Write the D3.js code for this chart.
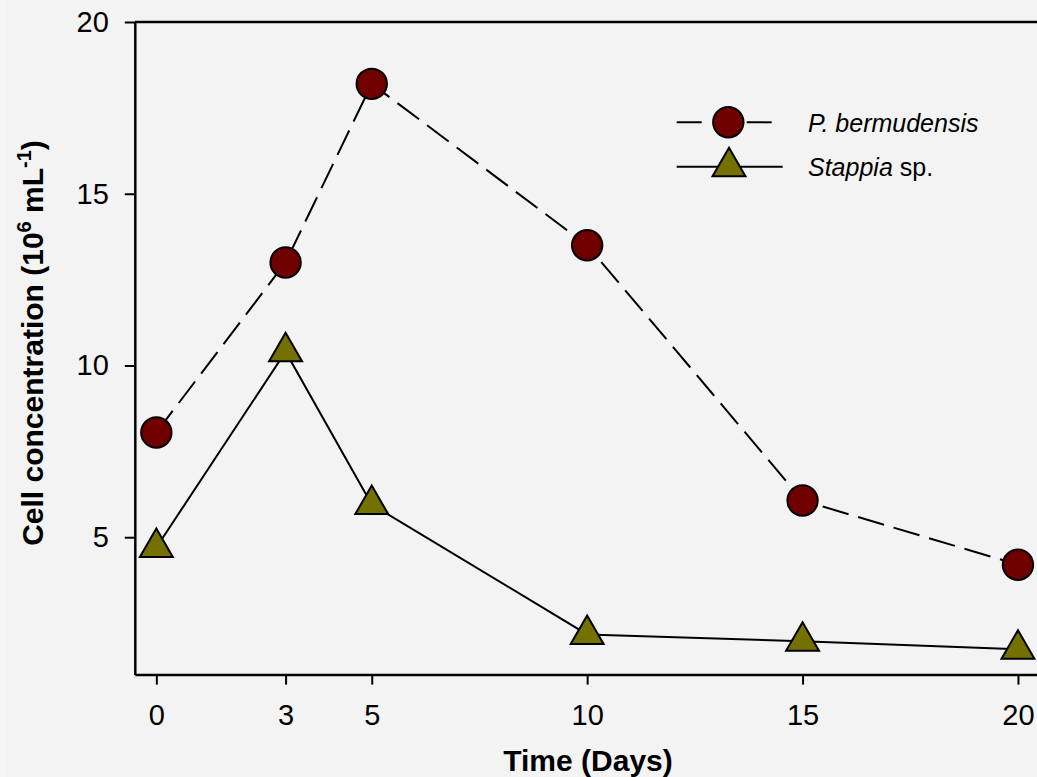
<!DOCTYPE html>
<html>
<head>
<meta charset="utf-8">
<script src="https://cdn.jsdelivr.net/npm/d3@7/dist/d3.min.js"></script>
<style>
  html, body { margin: 0; padding: 0; background: #f3f3f3; }
  svg { display: block; }
  text { font-family: Arial, "Liberation Sans", sans-serif; fill: #000; }
</style>
</head>
<body>
<svg id="chart" width="1037" height="777"></svg>
<script>
// ---- Data ----
const days = [0, 3, 5, 10, 15, 20];
const bermudensis = [8.05, 13.0, 18.2, 13.5, 6.07, 4.2];
const stappia = [4.7, 10.4, 5.95, 2.17, 1.97, 1.74];
const xTicks = [0, 3, 5, 10, 15, 20];
const yTicks = [5, 10, 15, 20];
const seriesNames = ["P. bermudensis", "Stappia"];

// ---- Layout ----
const W = 1037, H = 777;
const svg = d3.select("#chart");
svg.append("rect").attr("width", W).attr("height", H).attr("fill", "#f3f3f3");
svg.append("rect").attr("width", 6).attr("height", H).attr("fill", "#f7f7f7");

const x = d3.scaleLinear().domain([-0.5, 20.5]).range([134.8, 1039.5]);
const y = d3.scaleLinear().domain([1, 20]).range([674.6, 22]);

// ---- Axes ----
const xAxis = svg.append("g").attr("transform", `translate(0,${y(1)})`)
  .call(d3.axisBottom(x).tickValues(xTicks).tickSize(10).tickPadding(20).tickSizeOuter(0));
const yAxis = svg.append("g").attr("transform", `translate(${x(-0.5)},0)`)
  .call(d3.axisLeft(y).tickValues(yTicks).tickSize(10).tickPadding(16).tickSizeOuter(0));
[xAxis, yAxis].forEach(g => {
  g.select(".domain").attr("stroke", "#000").attr("stroke-width", 2.5);
  g.selectAll(".tick line").attr("stroke", "#000").attr("stroke-width", 2);
  g.selectAll(".tick text").attr("font-size", 29).attr("font-family", "Arial, 'Liberation Sans', sans-serif").attr("fill", "#000");
});
xAxis.selectAll(".tick text").attr("dy", "0.71em");
// top frame line
svg.append("line").attr("x1", x(-0.5)).attr("x2", x(20.5)).attr("y1", y(20)).attr("y2", y(20))
  .attr("stroke", "#000").attr("stroke-width", 2.5);

// ---- Axis titles ----
svg.append("text").attr("x", 588).attr("y", 771).attr("text-anchor", "middle")
  .attr("font-size", 30).attr("font-weight", "bold").text("Time (Days)");

const yl = svg.append("text").attr("transform", "translate(43,343) rotate(-90)")
  .attr("text-anchor", "middle").attr("font-size", 30).attr("font-weight", "bold");
yl.append("tspan").text("Cell concentration (10");
yl.append("tspan").attr("font-size", 20).attr("dy", -12).text("6");
yl.append("tspan").attr("dy", 12).text(" mL");
yl.append("tspan").attr("font-size", 20).attr("dy", -12).text("-1");
yl.append("tspan").attr("dy", 12).text(")");

// ---- Lines ----
const line = d3.line().x(d => x(d[0])).y(d => y(d[1]));
const bData = days.map((d, i) => [d, bermudensis[i]]);
const sData = days.map((d, i) => [d, stappia[i]]);

svg.append("path").datum(bData).attr("d", line).attr("fill", "none")
  .attr("stroke", "#000").attr("stroke-width", 2).attr("stroke-dasharray", "27,10");
svg.append("path").datum(sData).attr("d", line).attr("fill", "none")
  .attr("stroke", "#000").attr("stroke-width", 2);

// ---- Markers ----
const circleFill = "#700000", triFill = "#747100";
svg.selectAll("circle.b").data(bData).join("circle").attr("class", "b")
  .attr("cx", d => x(d[0])).attr("cy", d => y(d[1])).attr("r", 15.2)
  .attr("fill", circleFill).attr("stroke", "#000").attr("stroke-width", 2);
const tri = d3.symbol().type(d3.symbolTriangle).size(470);
svg.selectAll("path.s").data(sData).join("path").attr("class", "s")
  .attr("d", tri).attr("transform", d => `translate(${x(d[0])},${y(d[1])})`)
  .attr("fill", triFill).attr("stroke", "#000").attr("stroke-width", 2);

// ---- Legend ----
const lg = svg.append("g");
lg.append("line").attr("x1", 676.7).attr("x2", 771.7).attr("y1", 122.3).attr("y2", 122.3)
  .attr("stroke", "#000").attr("stroke-width", 2).attr("stroke-dasharray", "25,45");
lg.append("circle").attr("cx", 728.3).attr("cy", 122.3).attr("r", 15.2)
  .attr("fill", circleFill).attr("stroke", "#000").attr("stroke-width", 2);
lg.append("line").attr("x1", 676.7).attr("x2", 782.7).attr("y1", 166.7).attr("y2", 166.7)
  .attr("stroke", "#000").attr("stroke-width", 2);
lg.append("path").attr("d", tri).attr("transform", "translate(729,166.7)")
  .attr("fill", triFill).attr("stroke", "#000").attr("stroke-width", 2);
lg.append("text").attr("x", 808).attr("y", 132.3).attr("font-size", 25)
  .attr("font-style", "italic").text(seriesNames[0]);
const t2 = lg.append("text").attr("x", 808).attr("y", 175.7).attr("font-size", 25);
t2.append("tspan").attr("font-style", "italic").text(seriesNames[1]);
t2.append("tspan").text(" sp.");
</script>
</body>
</html>
